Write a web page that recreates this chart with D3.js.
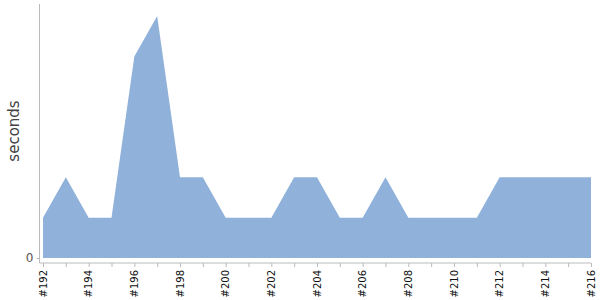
<!DOCTYPE html>
<html lang="en">
<head>
<meta charset="UTF-8">
<title>seconds per build</title>
<style>
  body { margin: 0; background: #fff; }
  text { font-family: "DejaVu Sans", Verdana, sans-serif; }
</style>
</head>
<body>
<svg id="chart"></svg>
<script src="https://d3js.org/d3.v7.min.js"></script>
<script>
const builds = [192, 193, 194, 195, 196, 197, 198, 199, 200, 201, 202, 203, 204,
                205, 206, 207, 208, 209, 210, 211, 212, 213, 214, 215, 216];
const seconds = [1, 2, 1, 1, 5, 6, 2, 2, 1, 1, 1, 2, 2,
                 1, 1, 2, 1, 1, 1, 1, 2, 2, 2, 2, 2];
const labelBuilds = builds.filter(b => b % 2 === 0);

const width = 600, height = 300;
const axisY = 263, axisX = 39.5;

const svg = d3.select('#chart').attr('width', width).attr('height', height);

const x = d3.scaleLinear().domain([192, 216]).range([43, 591]);
const y = d3.scaleLinear().domain([0, 6.3]).range([258, 4]);

const data = builds.map((b, i) => ({ b, v: seconds[i] }));

svg.append('path')
  .datum(data)
  .attr('fill', '#8fb1da')
  .attr('d', d3.area().x(d => x(d.b)).y0(y(0)).y1(d => y(d.v)));

// y axis
svg.append('line')
  .attr('x1', axisX).attr('x2', axisX)
  .attr('y1', y(6.3)).attr('y2', axisY)
  .attr('stroke', '#bbb');

const yAxis = svg.append('g')
  .attr('transform', `translate(${axisX},0)`)
  .call(d3.axisLeft(y).tickValues([0]).tickFormat(d3.format('d')).tickSize(3).tickSizeOuter(0));
yAxis.select('.domain').remove();
yAxis.selectAll('line').attr('stroke', '#bbb');
yAxis.selectAll('text').attr('fill', '#555').attr('font-size', 12).attr('x', -6);

// x axis
const xAxis = svg.append('g')
  .attr('transform', `translate(0,${axisY})`)
  .call(d3.axisBottom(x).tickValues(builds).tickSize(4).tickSizeOuter(0).tickFormat(''));
xAxis.select('.domain').attr('stroke', '#bbb').attr('d', `M${axisX},0H${x(216)}`);
xAxis.selectAll('line').attr('stroke', '#bbb');

svg.append('g')
  .selectAll('text')
  .data(labelBuilds)
  .join('text')
  .attr('transform', d => `translate(${x(d) + 3.5},${axisY + 7}) rotate(-90)`)
  .attr('text-anchor', 'end')
  .attr('font-size', 10)
  .attr('fill', '#111')
  .text(d => '#' + d);

svg.append('text')
  .attr('transform', `translate(19,131) rotate(-90)`)
  .attr('text-anchor', 'middle')
  .attr('font-size', 15)
  .attr('fill', '#444')
  .text('seconds');
</script>
</body>
</html>
